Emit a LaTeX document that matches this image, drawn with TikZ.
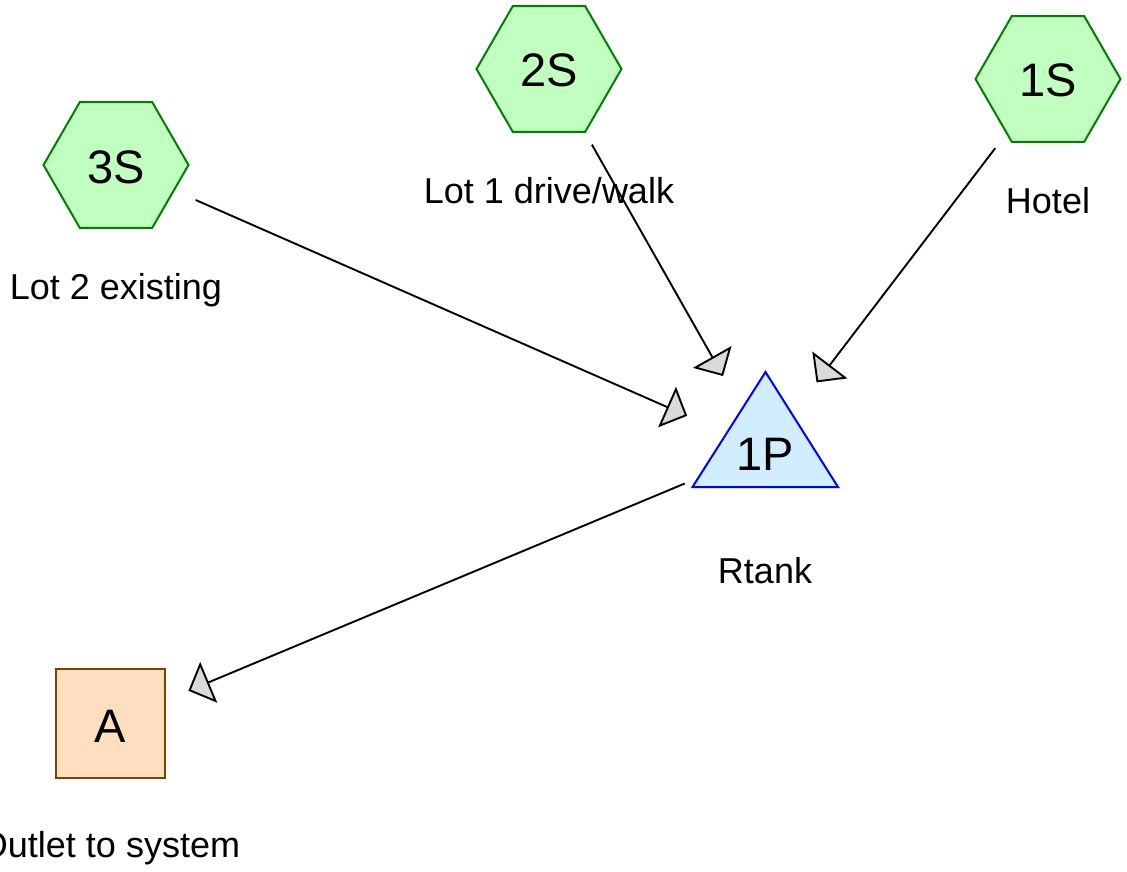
\documentclass[tikz,border=0pt]{standalone}
\usepackage{fontspec}
\setmainfont{Liberation Sans}
\usetikzlibrary{arrows.meta,shapes.geometric}
\definecolor{hexfill}{HTML}{C0FFC0}
\definecolor{hexdraw}{HTML}{008000}
\definecolor{trifill}{HTML}{D0EEFF}
\definecolor{tridraw}{HTML}{0000FF}
\definecolor{sqfill}{HTML}{FFDFBF}
\definecolor{sqdraw}{HTML}{804000}
\definecolor{tipfill}{HTML}{DADADA}
\begin{document}
\begin{tikzpicture}[x=1pt,y=-1pt,
  hexnode/.style={regular polygon, regular polygon sides=6, minimum size=145pt,
    inner sep=0pt, outer sep=0pt, draw=hexdraw, fill=hexfill, line width=2pt,
    font=\fontsize{47}{47}\selectfont, text height=36pt, text depth=0pt},
  trinode/.style={inner sep=0pt, outer sep=0pt,
    font=\fontsize{47}{47}\selectfont, text height=40pt, text depth=0pt},
  trishape/.style={draw=tridraw, fill=trifill, line width=2pt, line join=miter},
  sqnode/.style={rectangle, minimum size=109pt, inner sep=0pt, outer sep=0pt,
    draw=sqdraw, fill=sqfill, line width=2pt,
    font=\fontsize{47}{47}\selectfont, text height=37pt, text depth=0pt},
  lbl/.style={inner sep=0pt, anchor=base, font=\fontsize{36}{36}\selectfont},
  edge/.style={draw=black, line width=1.9pt, shorten <=87pt, shorten >=85pt,
    -{Triangle[length=22pt, width=44pt, fill=tipfill, line join=miter]}}
]
\useasboundingbox (0,0) rectangle (1127,872);
\clip (0,0) rectangle (1127,872);

% hexagon nodes
\node[hexnode] (3S) at (116,165) {3S};
\node[hexnode] (2S) at (549,69) {2S};
\node[hexnode] (1S) at (1048,79) {1S};

% triangle node
\coordinate (1Pc) at (765,450);
\path[trishape] ([shift={(0.5,-78)}]1Pc) -- ([shift={(-72.5,37)}]1Pc)
  -- ([shift={(73,37)}]1Pc) -- cycle;
\node[trinode] (1P) at (1Pc) {1P};

% square node
\node[sqnode] (A) at (110,723.5) {A};

% labels
\node[lbl] (l3S) at (116,299) {Lot 2 existing};
\node[lbl] (l2S) at (549,203) {Lot 1 drive/walk};
\node[lbl] (l1S) at (1048,213) {Hotel};
\node[lbl] (l1P) at (765,583) {Rtank};
\node[lbl] (lA) at (110,857.5) {Outlet to system};

% connectors
\draw[edge] (3S.center) -- (1P.center);
\draw[edge] (2S.center) -- (1P.center);
\draw[edge] (1S.center) -- (1P.center);
\draw[edge] (1P.center) -- (A.center);
\end{tikzpicture}
\end{document}
